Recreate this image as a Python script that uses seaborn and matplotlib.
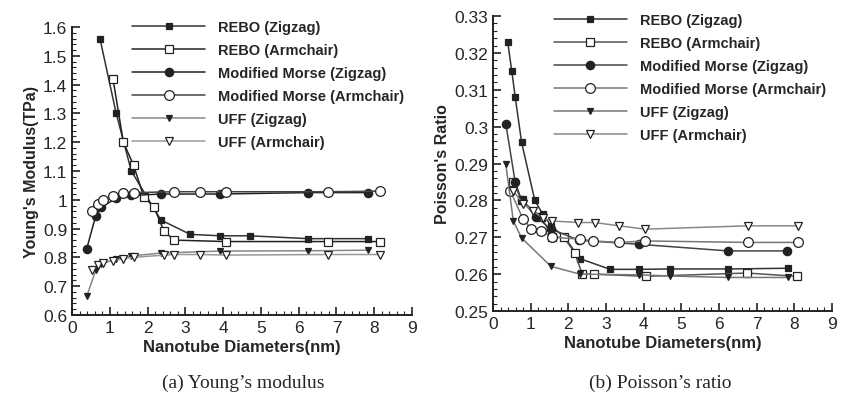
import matplotlib
matplotlib.use("Agg")
import matplotlib.pyplot as plt
from matplotlib.ticker import MultipleLocator, FuncFormatter
import seaborn as sns

labels = ["REBO (Zigzag)", "REBO (Armchair)", "Modified Morse (Zigzag)",
          "Modified Morse (Armchair)", "UFF (Zigzag)", "UFF (Armchair)"]

# (a) Young's modulus, TPa
ym_rebo_zz_x = [0.74, 1.17, 1.57, 2.35, 3.13, 3.92, 4.70, 6.26, 7.83]
ym_rebo_zz_y = [1.56, 1.30, 1.10, 0.93, 0.88, 0.875, 0.875, 0.865, 0.865]
ym_rebo_ac_x = [1.085, 1.36, 1.63, 1.90, 2.17, 2.44, 2.71, 4.07, 6.78, 8.14]
ym_rebo_ac_y = [1.42, 1.20, 1.12, 1.01, 0.975, 0.89, 0.86, 0.855, 0.855, 0.855]
ym_morse_zz_x = [0.39, 0.63, 0.78, 1.17, 1.57, 2.35, 3.92, 6.26, 7.83]
ym_morse_zz_y = [0.83, 0.945, 0.975, 1.005, 1.015, 1.02, 1.02, 1.025, 1.025]
ym_morse_ac_x = [0.54, 0.68, 0.81, 1.085, 1.36, 1.63, 2.71, 3.39, 4.07, 6.78, 8.14]
ym_morse_ac_y = [0.962, 0.985, 1.0, 1.014, 1.022, 1.025, 1.028, 1.028, 1.028, 1.028, 1.03]
ym_uff_zz_x = [0.39, 0.63, 0.78, 1.17, 1.57, 2.35, 3.92, 6.26, 7.83]
ym_uff_zz_y = [0.665, 0.755, 0.778, 0.795, 0.805, 0.815, 0.822, 0.823, 0.825]
ym_uff_ac_x = [0.54, 0.68, 0.81, 1.085, 1.36, 1.63, 2.44, 2.71, 3.39, 4.07, 6.78, 8.14]
ym_uff_ac_y = [0.755, 0.772, 0.78, 0.789, 0.795, 0.80, 0.808, 0.81, 0.81, 0.808, 0.81, 0.81]

# (b) Poisson's ratio
pr_rebo_zz_x = [0.39, 0.50, 0.59, 0.76, 1.11, 1.32, 1.54, 1.90, 2.31, 3.11, 3.89, 4.70, 6.24, 7.84]
pr_rebo_zz_y = [0.323, 0.315, 0.308, 0.2957, 0.280, 0.2763, 0.2731, 0.2700, 0.2642,
                0.2613, 0.2613, 0.2614, 0.2614, 0.2616]
pr_rebo_ac_x = [0.54, 0.76, 1.28, 1.58, 1.88, 2.17, 2.37, 2.68, 4.05, 6.74, 8.07]
pr_rebo_ac_y = [0.2849, 0.2800, 0.2754, 0.2700, 0.2700, 0.2658, 0.2600, 0.2600,
                0.2594, 0.2603, 0.2594]
pr_morse_zz_x = [0.34, 0.59, 0.76, 1.15, 1.54, 2.29, 3.87, 6.24, 7.82]
pr_morse_zz_y = [0.3008, 0.2849, 0.2800, 0.2755, 0.2722, 0.2692, 0.2681, 0.2663, 0.2663]
pr_morse_ac_x = [0.46, 0.80, 1.02, 1.28, 1.58, 2.31, 2.66, 3.35, 4.04, 6.76, 8.10]
pr_morse_ac_y = [0.2826, 0.2749, 0.2722, 0.2717, 0.2700, 0.2695, 0.2690, 0.2686,
                 0.2690, 0.2686, 0.2686]
pr_uff_zz_x = [0.34, 0.54, 0.76, 1.54, 2.31, 3.89, 4.70, 6.24, 7.84]
pr_uff_zz_y = [0.2898, 0.2744, 0.2698, 0.2621, 0.2600, 0.2598, 0.2595, 0.2591, 0.2591]
pr_uff_ac_x = [0.54, 0.80, 1.06, 1.32, 1.58, 2.27, 2.70, 3.35, 4.04, 6.76, 8.10]
pr_uff_ac_y = [0.2826, 0.2790, 0.2772, 0.2752, 0.2744, 0.2740, 0.2740, 0.2731,
               0.2722, 0.2731, 0.2731]

markers = ["s", "s", "o", "o", "v", "v"]
faces = ["#222222", "white", "#222222", "white", "#222222", "white"]

sns.set_style("ticks")
plt.rcParams["font.family"] = ["Liberation Sans", "DejaVu Sans"]

fig = plt.figure(figsize=(8.41, 4.10), dpi=100)
ax1 = fig.add_axes([0.0856, 0.2293, 0.4043, 0.7024])
ax2 = fig.add_axes([0.5862, 0.239, 0.4030, 0.7195])


def draw(ax, series, colors, sizes):
    for i, (xs, ys) in enumerate(series):
        sns.lineplot(x=xs, y=ys, ax=ax, label=labels[i], marker=markers[i],
                     color=colors[i], markerfacecolor=faces[i],
                     markeredgecolor="#222222", markersize=sizes[i],
                     markeredgewidth=0.9, linewidth=1.1, estimator=None, sort=False)


draw(ax1, [(ym_rebo_zz_x, ym_rebo_zz_y), (ym_rebo_ac_x, ym_rebo_ac_y),
           (ym_morse_zz_x, ym_morse_zz_y), (ym_morse_ac_x, ym_morse_ac_y),
           (ym_uff_zz_x, ym_uff_zz_y), (ym_uff_ac_x, ym_uff_ac_y)],
     ["#333333", "#222222", "#222222", "#444444", "#888888", "#999999"],
     [5, 6, 6, 7, 5, 6])
draw(ax2, [(pr_rebo_zz_x, pr_rebo_zz_y), (pr_rebo_ac_x, pr_rebo_ac_y),
           (pr_morse_zz_x, pr_morse_zz_y), (pr_morse_ac_x, pr_morse_ac_y),
           (pr_uff_zz_x, pr_uff_zz_y), (pr_uff_ac_x, pr_uff_ac_y)],
     ["#333333", "#555555", "#444444", "#777777", "#777777", "#888888"],
     [5, 6, 6, 7, 5, 6])

fmt = FuncFormatter(lambda v, p: ("%g" % round(v, 4)))
for ax, lo, hi, maj, mnr in [(ax1, 0.6, 1.6, 0.1, 0.02), (ax2, 0.25, 0.33, 0.01, 0.002)]:
    ax.set_xlim(0, 9)
    ax.set_ylim(lo, hi)
    ax.xaxis.set_major_locator(MultipleLocator(1))
    ax.xaxis.set_minor_locator(MultipleLocator(0.2))
    ax.yaxis.set_major_locator(MultipleLocator(maj))
    ax.yaxis.set_minor_locator(MultipleLocator(mnr))
    ax.yaxis.set_major_formatter(fmt)
    ax.tick_params(which="both", direction="in", labelsize=12.5, color="#222222")
    ax.tick_params(which="major", length=6, width=1.2)
    ax.tick_params(which="minor", length=3, width=0.8)
    sns.despine(ax=ax)
    for s in ["left", "bottom"]:
        ax.spines[s].set_linewidth(1.4)
        ax.spines[s].set_color("#222222")
    ax.set_xlabel("Nanotube Diameters(nm)", fontsize=12, fontweight="bold", labelpad=3)
    ax.legend(loc="upper right", frameon=False, handlelength=5.0,
              handletextpad=0.9, labelspacing=0.62, borderaxespad=0.0,
              prop={"weight": "bold", "size": 10.5})

ax1.legend_.set_bbox_to_anchor((0.995, 1.045))
ax2.legend_.set_bbox_to_anchor((1.0, 1.03))
ax1.set_ylabel("Young's Modulus(TPa)", fontsize=11.5, fontweight="bold", labelpad=3)
ax2.set_ylabel("Poisson's Ratio", fontsize=11.5, fontweight="bold", labelpad=3)

fig.text(243 / 841, 1 - 383 / 410, "(a) Young\u2019s modulus", ha="center", va="center",
         fontsize=14, family=["Liberation Serif", "DejaVu Serif"])
fig.text(660 / 841, 1 - 383 / 410, "(b) Poisson\u2019s ratio", ha="center", va="center",
         fontsize=14, family=["Liberation Serif", "DejaVu Serif"])

fig.savefig("out.png", dpi=100)
